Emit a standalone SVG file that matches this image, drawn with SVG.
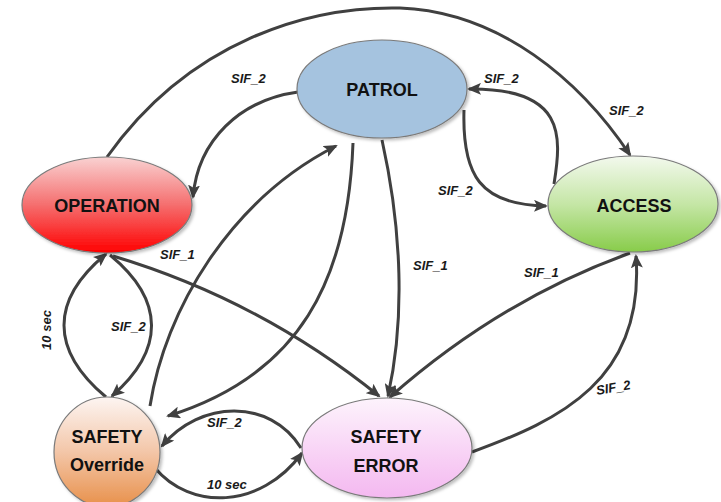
<svg xmlns="http://www.w3.org/2000/svg" width="721" height="502" viewBox="0 0 721 502">
  <defs>
    <style>
      .node-shape { stroke: #7a7a7a; stroke-width: 1.2; filter: url(#shadow); }
      .node-label { font-family: "Liberation Sans", Arial, sans-serif; font-weight: bold; font-size: 18px; fill: #111; text-anchor: middle; }
      .edge { fill: none; stroke: #404040; stroke-width: 3; marker-end: url(#arrow); }
      .edge-label { font-family: "Liberation Sans", Arial, sans-serif; font-weight: bold; font-style: italic; font-size: 13px; fill: #1a1a1a; }
    </style>
    <marker id="arrow" viewBox="0 0 14 12" refX="12" refY="6" markerWidth="14" markerHeight="12" markerUnits="userSpaceOnUse" orient="auto">
      <path d="M0,0 L14,6 L0,12 L3,6 Z" fill="#404040"/>
    </marker>
    <filter id="shadow" x="-10%" y="-10%" width="125%" height="130%">
      <feDropShadow dx="2" dy="2" stdDeviation="1.5" flood-color="#000" flood-opacity="0.25"/>
    </filter>
    <linearGradient id="gradOperation" x1="0" y1="0" x2="0" y2="1">
      <stop offset="0" stop-color="#f9d2d2"/>
      <stop offset="0.5" stop-color="#f56e6e"/>
      <stop offset="1" stop-color="#ff0000"/>
    </linearGradient>
    <linearGradient id="gradAccess" x1="0" y1="0" x2="0" y2="1">
      <stop offset="0" stop-color="#f3f9ee"/>
      <stop offset="0.5" stop-color="#c5e6a6"/>
      <stop offset="1" stop-color="#88cc4a"/>
    </linearGradient>
    <linearGradient id="gradOverride" x1="0" y1="0" x2="0" y2="1">
      <stop offset="0" stop-color="#fdf5f2"/>
      <stop offset="0.5" stop-color="#f3c6a8"/>
      <stop offset="1" stop-color="#e8904a"/>
    </linearGradient>
    <linearGradient id="gradError" x1="0" y1="0" x2="0" y2="1">
      <stop offset="0" stop-color="#fdf3fc"/>
      <stop offset="1" stop-color="#f4b8f0"/>
    </linearGradient>
  </defs>

  <!-- transitions -->
  <g id="connectors">
    <!-- OPERATION -> ACCESS (top arc) -->
    <path class="edge" d="M107,157 C190,40 310,6 400,8 C500,12 580,80 630,155"/>
    <!-- PATROL -> OPERATION -->
    <path class="edge" d="M298,92 C240,100 198,140 193,197"/>
    <!-- ACCESS -> PATROL -->
    <path class="edge" d="M554,184 C562,135 565,88 469,89"/>
    <!-- PATROL -> ACCESS -->
    <path class="edge" d="M464,110 C462,175 480,205 546,206"/>
    <!-- SAFETY Override -> OPERATION (10 sec) -->
    <path class="edge" d="M106,397 C50,350 50,300 106,254"/>
    <!-- OPERATION -> SAFETY Override -->
    <path class="edge" d="M110,255 C165,300 165,350 112,396"/>
    <!-- OPERATION -> SAFETY ERROR -->
    <path class="edge" d="M113,256 Q260,300 379,396"/>
    <!-- SAFETY Override -> PATROL -->
    <path class="edge" d="M150,406 C165,310 230,200 336,146"/>
    <!-- PATROL -> SAFETY Override -->
    <path class="edge" d="M353,143 C348,280 300,375 168,416"/>
    <!-- PATROL -> SAFETY ERROR -->
    <path class="edge" d="M382,140 C402,230 405,320 388,396"/>
    <!-- ACCESS -> SAFETY ERROR -->
    <path class="edge" d="M630,253 Q500,300 390,397"/>
    <!-- SAFETY ERROR -> ACCESS -->
    <path class="edge" d="M472,452 C560,420 645,380 636,256"/>
    <!-- SAFETY ERROR -> SAFETY Override -->
    <path class="edge" d="M301,448 C270,398 200,400 162,446"/>
    <!-- SAFETY Override -> SAFETY ERROR (10 sec) -->
    <path class="edge" d="M155,468 C190,510 260,510 302,453"/>

    <text class="edge-label" x="231" y="83">SIF_2</text>
    <text class="edge-label" x="484" y="83">SIF_2</text>
    <text class="edge-label" x="609" y="115">SIF_2</text>
    <text class="edge-label" x="438" y="195">SIF_2</text>
    <text class="edge-label" x="160" y="259">SIF_1</text>
    <text class="edge-label" x="413" y="270">SIF_1</text>
    <text class="edge-label" x="524" y="277">SIF_1</text>
    <text class="edge-label" x="111" y="331">SIF_2</text>
    <text class="edge-label" transform="translate(51,330) rotate(-90)" text-anchor="middle">10 sec</text>
    <text class="edge-label" x="207" y="427">SIF_2</text>
    <text class="edge-label" x="207" y="489">10 sec</text>
    <text class="edge-label" transform="translate(597,395) rotate(-10)">SIF_2</text>
  </g>

  <!-- states -->
  <g id="patrol">
    <ellipse class="node-shape" cx="382" cy="89" rx="85" ry="49" fill="#a5c3df"/>
    <text class="node-label" x="382" y="96">PATROL</text>
  </g>
  <g id="operation">
    <ellipse class="node-shape" cx="107" cy="205" rx="85" ry="48" fill="url(#gradOperation)"/>
    <text class="node-label" x="107" y="212">OPERATION</text>
  </g>
  <g id="access">
    <ellipse class="node-shape" cx="633" cy="204" rx="85" ry="48" fill="url(#gradAccess)"/>
    <text class="node-label" x="634" y="212">ACCESS</text>
  </g>
  <g id="safety-override">
    <ellipse class="node-shape" cx="107" cy="452" rx="53" ry="55" fill="url(#gradOverride)"/>
    <text class="node-label" x="107" y="443">SAFETY</text>
    <text class="node-label" x="107" y="471">Override</text>
  </g>
  <g id="safety-error">
    <ellipse class="node-shape" cx="387" cy="448" rx="85" ry="50" fill="url(#gradError)"/>
    <text class="node-label" x="386" y="443">SAFETY</text>
    <text class="node-label" x="386" y="472">ERROR</text>
  </g>
</svg>
